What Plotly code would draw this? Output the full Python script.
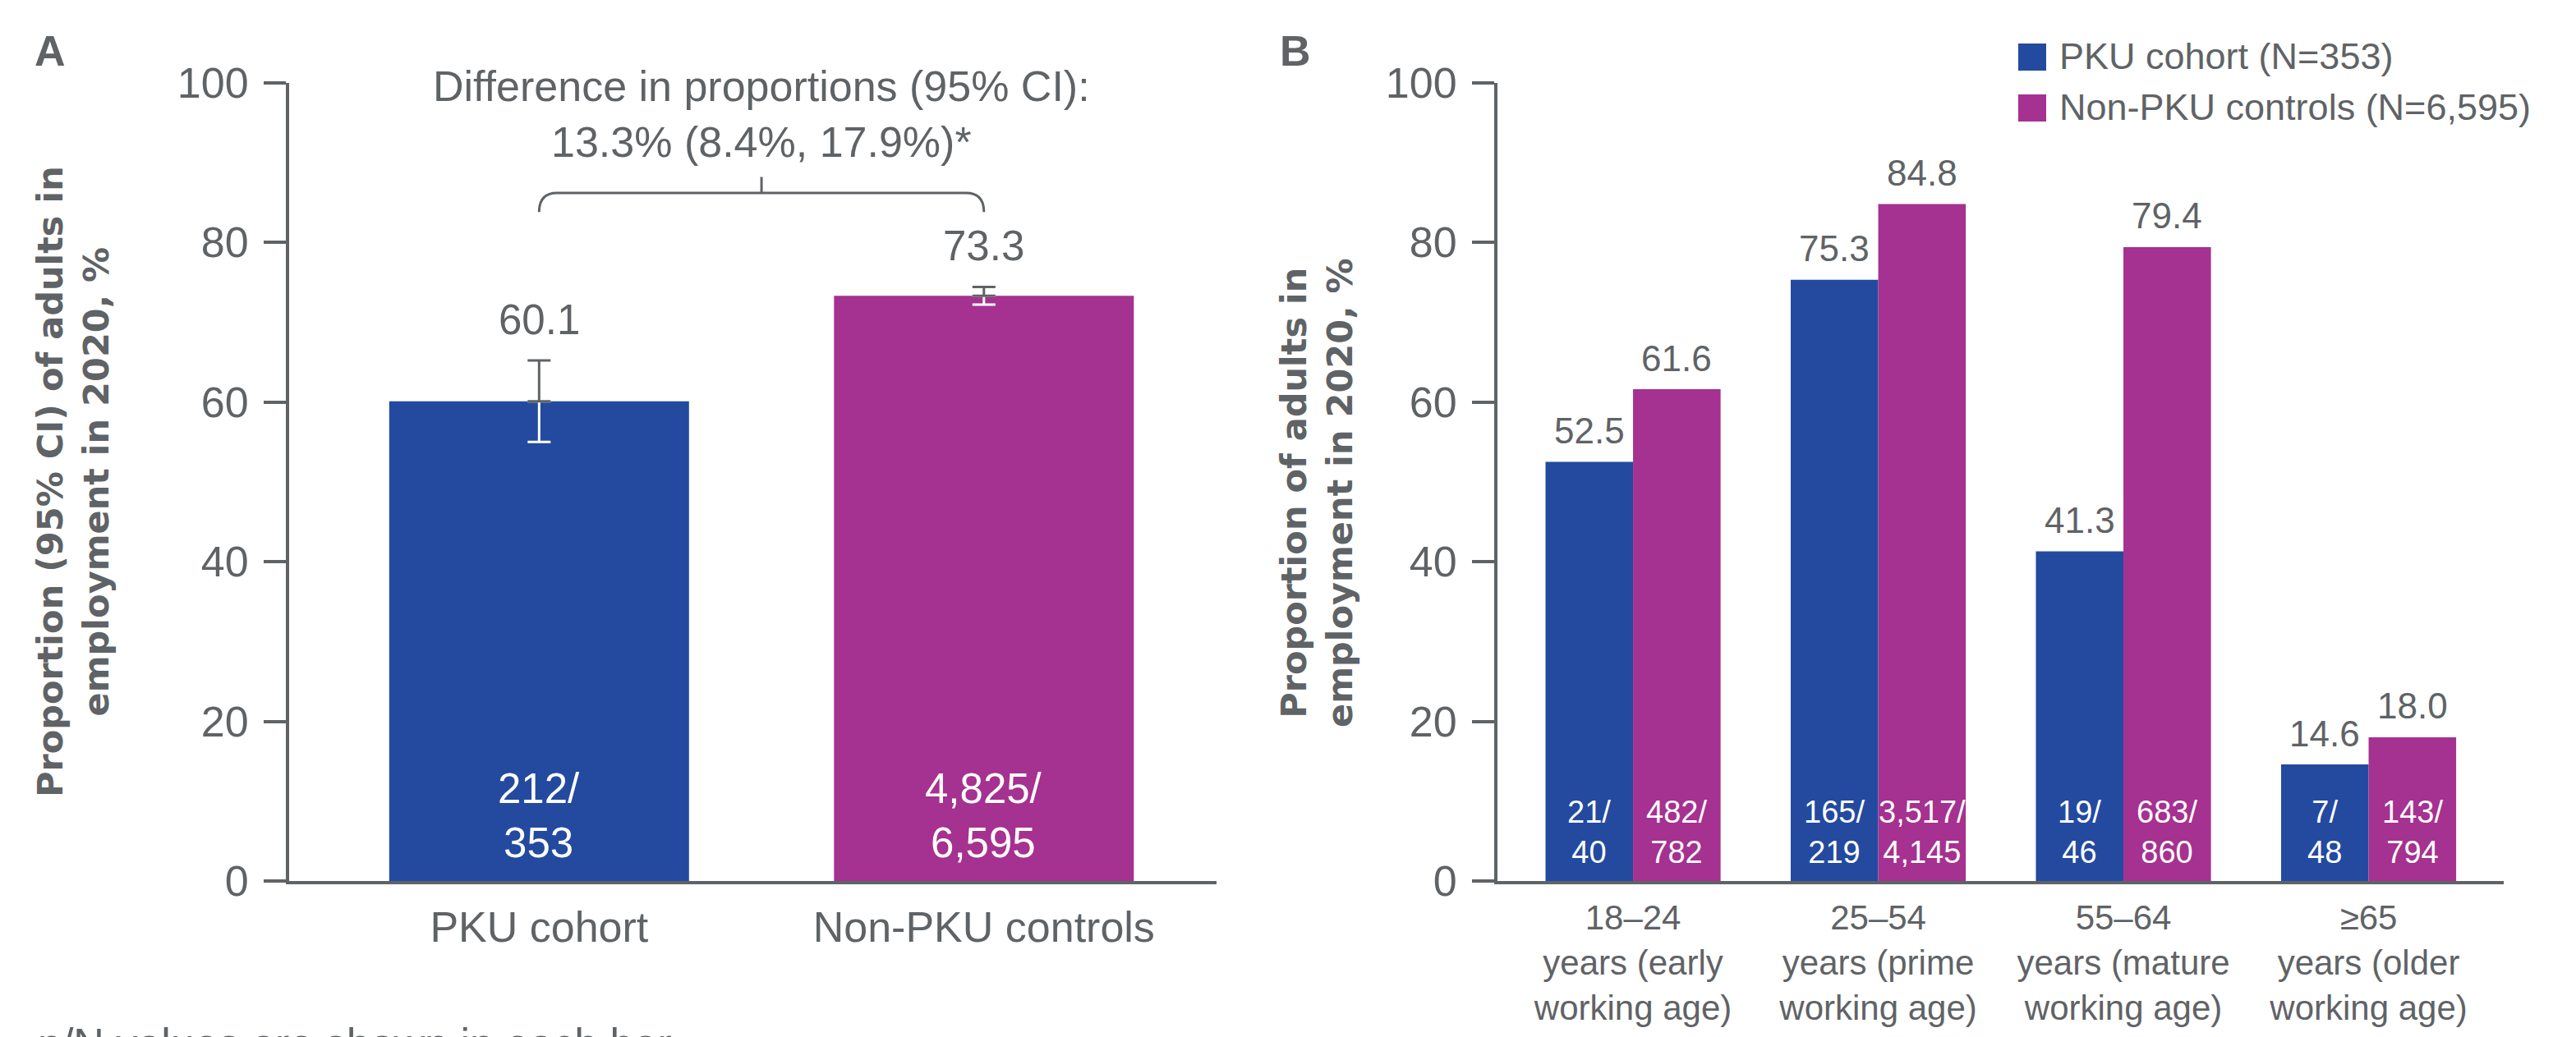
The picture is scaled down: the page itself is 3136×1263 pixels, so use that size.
import plotly.graph_objects as go

# ---------------- data ----------------
# Panel A
groups_a = ["PKU cohort", "Non-PKU controls"]
prop_a = [60.1, 73.3]
ci_lo_a = [55.0, 72.2]
ci_hi_a = [65.2, 74.4]
n_a = ["212", "4,825"]
N_a = ["353", "6,595"]
diff_text = "Difference in proportions (95% CI):<br>13.3% (8.4%, 17.9%)*"

# Panel B
age_labels = [
    "18–24<br>years (early<br>working age)",
    "25–54<br>years (prime<br>working age)",
    "55–64<br>years (mature<br>working age)",
    "≥65<br>years (older<br>working age)",
]
pku_b = [52.5, 75.3, 41.3, 14.6]
ctrl_b = [61.6, 84.8, 79.4, 18.0]
pku_n = ["21", "165", "19", "7"]
pku_N = ["40", "219", "46", "48"]
ctrl_n = ["482", "3,517", "683", "143"]
ctrl_N = ["782", "4,145", "860", "794"]
legend_names = ["PKU cohort (N=353)", "Non-PKU controls (N=6,595)"]
y_ticks = [0, 20, 40, 60, 80, 100]

# ---------------- style ----------------
W, H = 3136, 1263
OFF = 8  # default page body margin
BLUE = "#234A9F"
MAG = "#A53190"
GREY = "#5F6366"
FONT = "Liberation Sans, Arial, sans-serif"
BOLD = "DejaVu Sans, Verdana, sans-serif"


def px(p):
    return (p - OFF) / W


def py(p):
    return 1 - (p - OFF) / H


fig = go.Figure()

# ---- Panel A ----
xa = list(range(len(groups_a)))
fig.add_trace(go.Bar(
    x=xa, y=prop_a, width=0.674, marker_color=[BLUE, MAG], marker_line_width=0,
    error_y=dict(type="data", symmetric=False,
                 array=[0 for _ in prop_a],
                 arrayminus=[p - l for p, l in zip(prop_a, ci_lo_a)],
                 color="white", thickness=3, width=14),
    xaxis="x", yaxis="y", showlegend=False, hoverinfo="skip"))
fig.add_trace(go.Scatter(
    x=xa, y=prop_a, mode="markers", marker=dict(opacity=0, size=1),
    error_y=dict(type="data", symmetric=False,
                 array=[h - p for h, p in zip(ci_hi_a, prop_a)],
                 arrayminus=[0 for _ in prop_a],
                 color=GREY, thickness=3, width=14),
    xaxis="x", yaxis="y", showlegend=False, hoverinfo="skip"))

# ---- Panel B ----
xb = list(range(len(age_labels)))
bargap = 0.286
fig.add_trace(go.Bar(x=xb, y=pku_b, name=legend_names[0], marker_color=BLUE,
                     marker_line_width=0, offsetgroup="a",
                     xaxis="x2", yaxis="y2", showlegend=False, hoverinfo="skip"))
fig.add_trace(go.Bar(x=xb, y=ctrl_b, name=legend_names[1], marker_color=MAG,
                     marker_line_width=0, offsetgroup="b",
                     xaxis="x2", yaxis="y2", showlegend=False, hoverinfo="skip"))

ann = []
# Panel A labels
for i, (v, hi, n, N) in enumerate(zip(prop_a, ci_hi_a, n_a, N_a)):
    ann.append(dict(x=i, y=hi, xref="x", yref="y", text=f"{v:.1f}", showarrow=False,
                    yanchor="middle", yshift=50, font=dict(family=FONT, size=51, color=GREY)))
    ann.append(dict(x=i, y=0, xref="x", yref="y", text=f"{n}/<br>{N}", showarrow=False,
                    yanchor="middle", yshift=80, font=dict(family=FONT, size=51, color="white")))
ann.append(dict(x=0.5, y=py(204), xref="x", yref="paper", text=diff_text, showarrow=False,
                yanchor="bottom", font=dict(family=FONT, size=52, color=GREY)))

# Panel B labels
off = (1 - bargap) / 4
for i in xb:
    for xx, v, n, N in [(i - off, pku_b[i], pku_n[i], pku_N[i]),
                        (i + off, ctrl_b[i], ctrl_n[i], ctrl_N[i])]:
        ann.append(dict(x=xx, y=v, xref="x2", yref="y2", text=f"{v:.1f}", showarrow=False,
                        yanchor="middle", yshift=38, font=dict(family=FONT, size=44, color=GREY)))
        ann.append(dict(x=xx, y=0, xref="x2", yref="y2", text=f"{n}/<br>{N}", showarrow=False,
                        yanchor="middle", yshift=60, font=dict(family=FONT, size=38, color="white")))

# Axis titles
ann.append(dict(x=px(89), y=py(587), xref="paper", yref="paper", textangle=-90,
                text="Proportion (95% CI) of adults in<br>employment in 2020, %", showarrow=False,
                xanchor="center", yanchor="middle",
                font=dict(family=BOLD, size=43, color=GREY, weight="bold")))
ann.append(dict(x=px(1603), y=py(600), xref="paper", yref="paper", textangle=-90,
                text="Proportion of adults in<br>employment in 2020, %", showarrow=False,
                xanchor="center", yanchor="middle",
                font=dict(family=BOLD, size=43, color=GREY, weight="bold")))

# Panel letters
for lab, xpos in [("A", 40), ("B", 1556)]:
    ann.append(dict(x=px(xpos), y=py(31), xref="paper", yref="paper", text=lab, showarrow=False,
                    xanchor="left", yanchor="top",
                    font=dict(family=FONT, size=52, color=GREY, weight="bold")))

# Legend (manual)
shapes = []
for k, (name, col) in enumerate(zip(legend_names, [BLUE, MAG])):
    top = 53 + 62 * k
    shapes.append(dict(type="rect", xref="paper", yref="paper",
                       x0=px(2457), x1=px(2491), y0=py(top + 33), y1=py(top),
                       fillcolor=col, line_width=0))
    ann.append(dict(x=px(2505), y=py(top + 16), xref="paper", yref="paper", text=name,
                    showarrow=False, xanchor="left", yanchor="middle",
                    font=dict(family=FONT, size=45, color=GREY)))

# Footnote (partly cut off at the bottom edge, as in the reference)
ann.append(dict(x=px(44), y=py(1240), xref="paper", yref="paper",
                text="n/N values are shown in each bar", showarrow=False,
                xanchor="left", yanchor="top", font=dict(family=FONT, size=52, color=GREY)))

# Brace over panel A
y_line, y_end, y_tick, dx = 86.2, 83.8, 88.2, 0.04
shapes.append(dict(type="path", xref="x", yref="y",
                   path=(f"M 0,{y_end} Q 0,{y_line} {dx},{y_line} L {1 - dx},{y_line} "
                         f"Q 1,{y_line} 1,{y_end} M 0.5,{y_line} L 0.5,{y_tick}"),
                   line=dict(color=GREY, width=3)))

yaxis_common = dict(range=[0, 100], tickvals=y_ticks, ticks="outside", ticklen=27, tickwidth=4,
                    tickcolor=GREY, showline=True, linewidth=4, linecolor=GREY, showgrid=False,
                    zeroline=False, tickfont=dict(family=FONT, size=52, color=GREY),
                    ticklabelstandoff=8, automargin=False,
                    domain=[py(1073), py(100.7)])

fig.update_layout(
    width=W, height=H, autosize=False,
    margin=dict(l=0, r=0, t=0, b=0, pad=0),
    paper_bgcolor="white", plot_bgcolor="white",
    barmode="group", bargap=bargap, bargroupgap=0,
    showlegend=False,
    xaxis=dict(domain=[px(352), px(1481)], range=[-0.562, 1.523], tickvals=xa, ticktext=groups_a,
               showline=True, linewidth=4, linecolor=GREY, ticks="", showgrid=False,
               zeroline=False, tickfont=dict(family=FONT, size=52, color=GREY),
               ticklabelstandoff=8, anchor="y", automargin=False),
    yaxis=dict(anchor="x", **yaxis_common),
    xaxis2=dict(domain=[px(1823), px(3048)], range=[-0.553, 3.551], tickvals=xb, ticktext=age_labels,
                showline=True, linewidth=4, linecolor=GREY, ticks="", showgrid=False,
                zeroline=False, tickfont=dict(family=FONT, size=42, color=GREY),
                ticklabelstandoff=5, anchor="y2", automargin=False),
    yaxis2=dict(anchor="x2", **yaxis_common),
    annotations=ann,
    shapes=shapes,
)

fig.write_html("out.html")
